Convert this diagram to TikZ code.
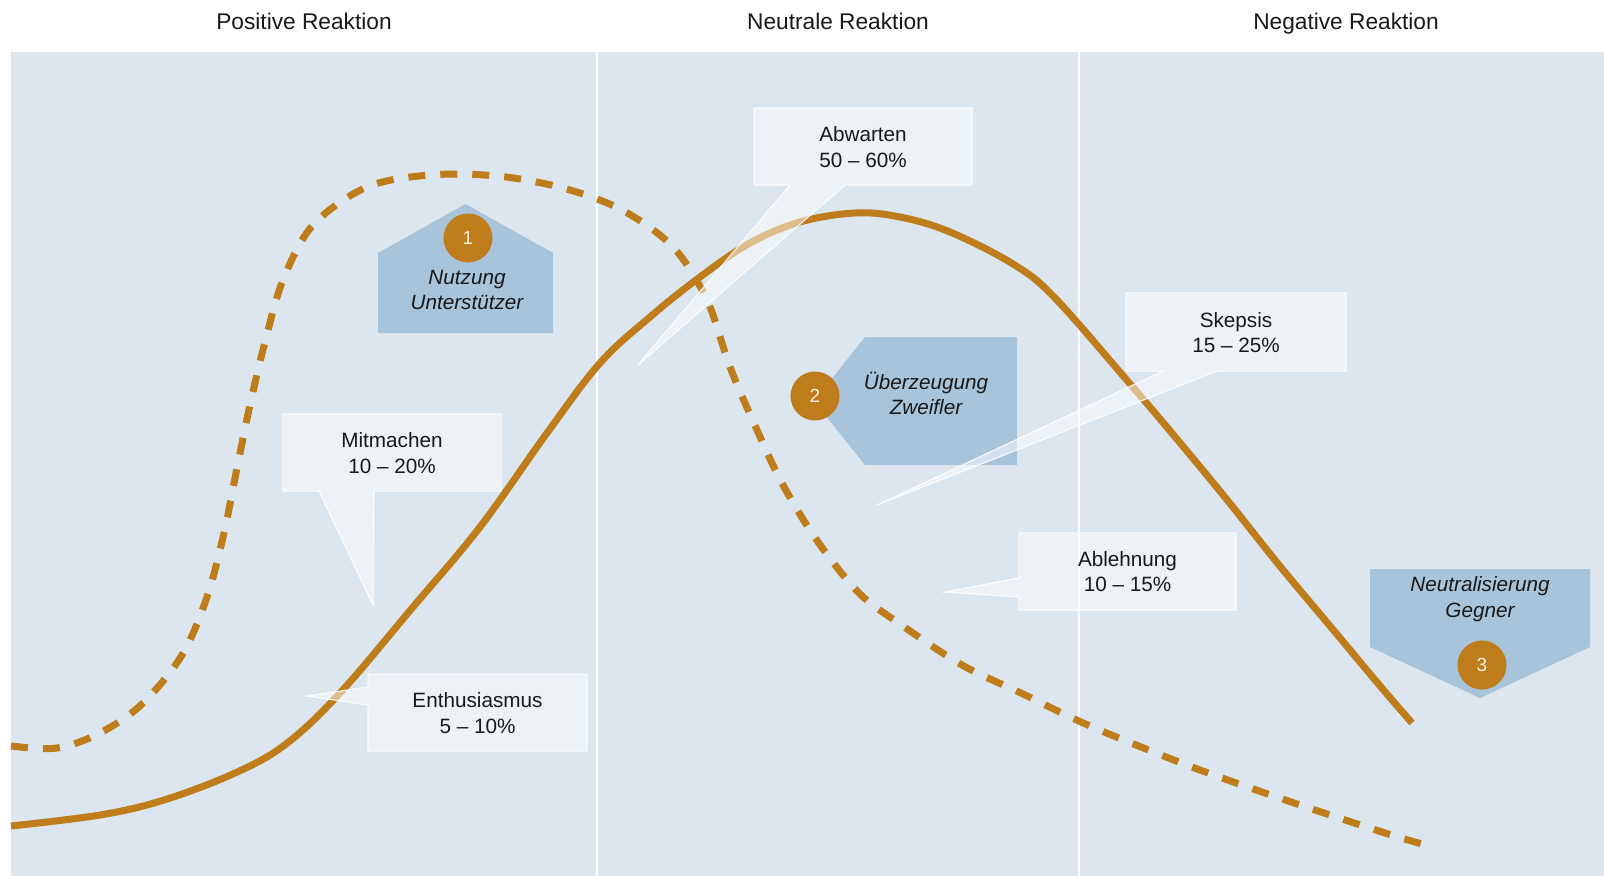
\documentclass[tikz,border=0pt]{standalone}
\usepackage{fontspec}
\setmainfont{Liberation Sans}
\usetikzlibrary{calc}
\definecolor{panel}{RGB}{220,230,239}
\definecolor{curvec}{RGB}{190,124,26}
\definecolor{shapeblue}{RGB}{168,196,218}
\definecolor{txt}{RGB}{25,25,25}
\definecolor{numtxt}{RGB}{250,240,225}
\begin{document}
\begin{tikzpicture}[x=1pt,y=-1pt,
  hdr/.style={font=\fontsize{22.7}{27}\selectfont, text=txt, inner sep=0pt, anchor=base},
  lbl/.style={font=\fontsize{20.7}{25.6}\selectfont, text=txt, align=center, inner sep=0pt},
  ital/.style={font=\fontsize{20.7}{25.6}\selectfont\itshape, text=txt, align=center, inner sep=0pt},
  numc/.style={circle, fill=curvec, minimum size=49pt, inner sep=0pt, text=numtxt, font=\fontsize{19}{19}\selectfont},
  curve/.style={draw=curvec, line width=7pt, line join=round},
  dashcurve/.style={curve, dash pattern=on 17pt off 15pt},
  bubble/.style={fill=white, fill opacity=0.5, draw=white, draw opacity=0.85, line width=1.2pt, line join=miter},
  tag/.style={fill=shapeblue},
  divider/.style={draw=white, line width=2pt}
]
\useasboundingbox (0,0) rectangle (1604,876);
\fill[white] (0,0) rectangle (1604,876);
\fill[panel] (11.3,52.2) rectangle (1604,876);
\draw[divider] (597.4,52.2) -- (597.4,876);
\draw[divider] (1079.2,52.2) -- (1079.2,876);

% headers
\node[hdr] (hpos) at (304,29.6) {Positive Reaktion};
\node[hdr] (hneu) at (838,29.6) {Neutrale Reaktion};
\node[hdr] (hneg) at (1346,29.6) {Negative Reaktion};

% blue tags
\fill[tag] (378,333) -- (378,253) -- (465.5,204) -- (553,253) -- (553,333) -- cycle;
\fill[tag] (814,401) -- (865,337) -- (1017,337) -- (1017,465) -- (865,465) -- cycle;
\fill[tag] (1370,569) -- (1590,569) -- (1590,647) -- (1480,698) -- (1370,647) -- cycle;

\node[numc] (n1) at (468,238) {1};
\node[numc] (n2) at (815,396) {2};
\node[numc] (n3) at (1482,665) {3};

\node[ital] (t1) at (467,290) {Nutzung\\Unterstützer};
\node[ital] (t2) at (926,393.5) {Überzeugung\\Zweifler};
\node[ital] (t3) at (1480,599) {Neutralisierung\\Gegner};

% curves
\draw[dashcurve] plot[smooth, tension=0.55] coordinates {(11,746) (57,748) (100,733) (142,704) (182,655) (207,597) (224,533) (237,468) (250,405) (265,342) (283,280) (313,225) (367,187) (430,175) (497,176) (563,188) (622,210) (673,247) (707,300) (730,367) (757,430) (783,485) (818,542) (859,593) (900,624) (962,665) (1021,693) (1081,722) (1141,747) (1200,770) (1262,792) (1324,813) (1385,833) (1422,844)};
\draw[curve] plot[smooth, tension=0.6] coordinates {(11,826) (100,815) (164,800) (235,773) (286,744) (340,693) (413,607) (480,527) (547,433) (600,363) (650,317) (700,277) (750,243) (800,222) (855,213) (900,217) (950,232) (1013,264) (1054,297) (1125,378) (1176,438) (1228,501) (1279,565) (1330,626) (1381,687) (1412,723)};

% callouts
\coordinate (abwtip) at (637,366);
\coordinate (mittip) at (373,605);
\coordinate (enttip) at (307,696);
\coordinate (abltip) at (945,592);
\coordinate (skptip) at (877,505);
\path[bubble] (754,108) -- (972,108) -- (972,185) -- (845,185) -- (abwtip) -- (790,185) -- (754,185) -- cycle;
\path[bubble] (283,414) -- (501,414) -- (501,491) -- (374,491) -- (mittip) -- (319,491) -- (283,491) -- cycle;
\path[bubble] (368,674) -- (587,674) -- (587,751) -- (368,751) -- (368,705) -- (enttip) -- (368,687) -- cycle;
\path[bubble] (1019,533) -- (1236,533) -- (1236,610) -- (1019,610) -- (1019,597) -- (abltip) -- (1019,578) -- cycle;
\path[bubble] (1126,293) -- (1346,293) -- (1346,371) -- (1217,371) -- (skptip) -- (1163,371) -- (1126,371) -- cycle;

\node[lbl] (abw) at (863,147) {Abwarten\\50 – 60\%};
\node[lbl] (mit) at (392,453) {Mitmachen\\10 – 20\%};
\node[lbl] (ent) at (477.5,713) {Enthusiasmus\\5 – 10\%};
\node[lbl] (abl) at (1127.5,571.5) {Ablehnung\\10 – 15\%};
\node[lbl] (skp) at (1236,332.5) {Skepsis\\15 – 25\%};
\end{tikzpicture}
\end{document}
